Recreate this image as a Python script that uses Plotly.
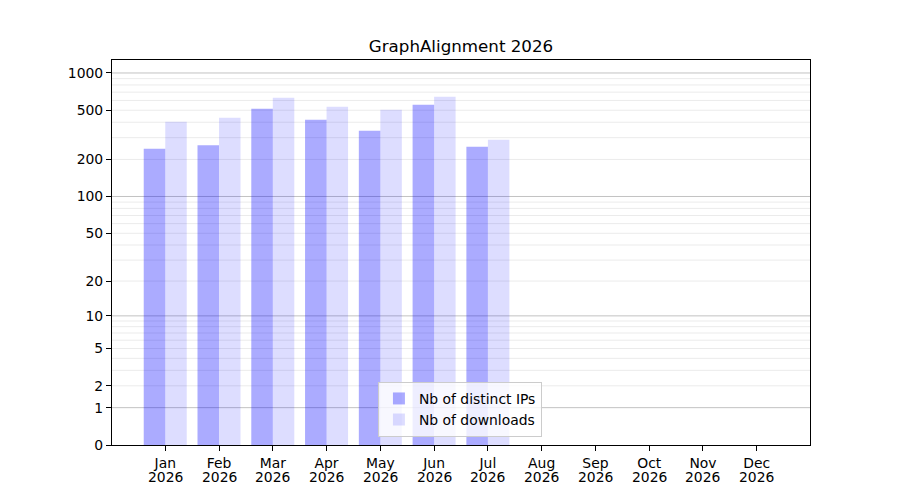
import numpy as np
import plotly.graph_objects as go

# monthly stats
months = ['Jan', 'Feb', 'Mar', 'Apr', 'May', 'Jun',
          'Jul', 'Aug', 'Sep', 'Oct', 'Nov', 'Dec']
year = '2026'
distinct_ips = [244, 260, 514, 419, 341, 554, 253, 0, 0, 0, 0, 0]
downloads = [404, 435, 631, 534, 505, 643, 288, 0, 0, 0, 0, 0]

ytick_values = [0, 1, 2, 5, 10, 20, 50, 100, 200, 500, 1000]
major_grid = [1, 10, 100, 1000]
minor_grid = [m * d for d in [1, 10, 100] for m in range(2, 10)]


def tr(v):
    # axis is log10(1 + v)
    return np.log10(1 + np.asarray(v, dtype=float))


pos = np.arange(len(months))
font = dict(family='DejaVu Sans', size=13.9, color='black')

fig = go.Figure()
fig.add_trace(go.Bar(x=pos - 0.2, y=tr(distinct_ips), width=0.4,
                     name='Nb of distinct IPs',
                     marker=dict(color='rgba(0,0,255,0.33)', line=dict(width=0))))
fig.add_trace(go.Bar(x=pos + 0.2, y=tr(downloads), width=0.4,
                     name='Nb of downloads',
                     marker=dict(color='rgba(0,0,255,0.133)', line=dict(width=0))))

for v in minor_grid:
    fig.add_shape(type='line', xref='paper', yref='y', x0=0, x1=1, y0=tr(v), y1=tr(v),
                  line=dict(color='#ebebeb', width=1), layer='below')
for v in major_grid:
    fig.add_shape(type='line', xref='paper', yref='y', x0=0, x1=1, y0=tr(v), y1=tr(v),
                  line=dict(color='#c2c2c2', width=1), layer='below')

# second line of the month labels (tighter than a <br>)
for p in pos:
    fig.add_annotation(x=p, xref='x', y=0, yref='paper', text=year, showarrow=False,
                       xanchor='center', yanchor='middle', yshift=-32, font=font)

# page body has an 8px margin, so shift the plot area back
fig.update_layout(
    width=900, height=500,
    margin=dict(l=104, r=98, t=52, b=63),
    paper_bgcolor='white', plot_bgcolor='white',
    font=font,
    title=dict(text='GraphAlignment 2026', x=0.5, xref='paper', xanchor='center',
               y=1 - 38 / 500, yref='container', yanchor='middle',
               font=dict(family='DejaVu Sans', size=16.7, color='black')),
    barmode='overlay',
    showlegend=True,
    legend=dict(x=0.381, y=0.021, xanchor='left', yanchor='bottom',
                bgcolor='rgba(255,255,255,0.8)', bordercolor='#cccccc', borderwidth=1,
                font=font, traceorder='normal', tracegroupgap=0),
)
fig.update_xaxes(range=[-0.99, 11.99], tickmode='array', tickvals=pos,
                 ticktext=months,
                 showgrid=False, zeroline=False, showline=True, linecolor='black',
                 linewidth=1.1, mirror=True, ticks='outside', ticklen=5,
                 tickwidth=1.1, tickcolor='black', tickfont=font)
fig.update_yaxes(range=[0, 3.105], tickmode='array', tickvals=tr(ytick_values),
                 ticktext=[str(v) for v in ytick_values],
                 showgrid=False, zeroline=False, showline=True, linecolor='black',
                 linewidth=1.1, mirror=True, ticks='outside', ticklen=5,
                 tickwidth=1.1, tickcolor='black', tickfont=font)

fig.write_html('out.html')
